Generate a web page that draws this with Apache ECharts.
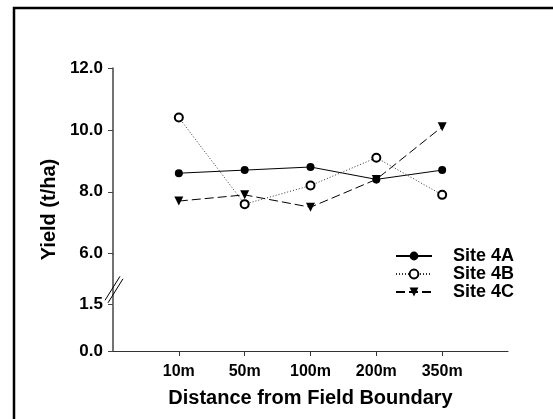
<!DOCTYPE html>
<html>
<head>
<meta charset="utf-8">
<script src="https://cdn.jsdelivr.net/npm/echarts@6/dist/echarts.min.js"></script>
<style>
  html, body { margin: 0; padding: 0; background: #fff; }
  #main { width: 553px; height: 419px; }
</style>
</head>
<body>
<div id="main"></div>
<script>
// distances from the field boundary
var categories = ['10m', '50m', '100m', '200m', '350m'];
// yields (t/ha)
var site4A = [8.6, 8.7, 8.8, 8.4, 8.7];
var site4B = [10.4, 7.6, 8.2, 9.1, 7.9];
var site4C = [7.7, 7.9, 7.5, 8.4, 10.1];
var yTicks = [0, 1.5, 6, 8, 10, 12];

var font = 'Liberation Sans, Arial, sans-serif';

function toPoints(arr) {
    return arr.map(function (v, i) { return [i + 1, v]; });
}

var myChart = echarts.init(document.getElementById('main'));

var option = {
    animation: false,
    backgroundColor: '#fff',
    grid: { left: 113, right: 45, top: 68, bottom: 68 },
    legend: {
        orient: 'vertical',
        left: 395,
        top: 247,
        padding: 0,
        itemWidth: 36,
        itemHeight: 11,
        itemGap: 0,
        textStyle: {
            fontFamily: font, fontWeight: 'bold', fontSize: 18, color: '#000',
            lineHeight: 18, padding: [0, 0, 0, 16]
        },
        data: ['Site 4A', 'Site 4B', 'Site 4C']
    },
    xAxis: {
        type: 'value',
        min: 0,
        max: 6,
        name: 'Distance from Field Boundary',
        nameLocation: 'middle',
        nameGap: 37,
        nameTextStyle: { fontFamily: font, fontWeight: 'bold', fontSize: 20, color: '#000' },
        axisLine: { lineStyle: { color: '#333', width: 1.2 } },
        axisTick: { customValues: [1, 2, 3, 4, 5], length: 5, lineStyle: { color: '#333' } },
        axisLabel: {
            customValues: [1, 2, 3, 4, 5],
            margin: 13,
            fontFamily: font, fontWeight: 'bold', fontSize: 16, color: '#000',
            formatter: function (v) { return categories[v - 1]; }
        },
        splitLine: { show: false }
    },
    yAxis: {
        type: 'value',
        min: 0,
        max: 12,
        breaks: [{ start: 1.5, end: 6, gap: '18%' }],
        breakArea: { show: false },
        name: 'Yield (t/ha)',
        nameLocation: 'middle',
        nameGap: 41,
        nameTextStyle: { fontFamily: font, fontWeight: 'bold', fontSize: 20, color: '#000' },
        axisLine: { lineStyle: { color: '#444', width: 1.5 } },
        axisTick: { customValues: yTicks, length: 5, lineStyle: { color: '#444' } },
        axisLabel: {
            customValues: yTicks,
            margin: 10,
            fontFamily: font, fontWeight: 'bold', fontSize: 17, color: '#000',
            formatter: function (v) { return v.toFixed(1); }
        },
        splitLine: { show: false }
    },
    series: [
        {
            name: 'Site 4A',
            type: 'line',
            data: toPoints(site4A),
            symbol: 'circle',
            symbolSize: 8,
            itemStyle: { color: '#000' },
            lineStyle: { color: '#000', width: 1 }
        },
        {
            name: 'Site 4B',
            type: 'line',
            data: toPoints(site4B),
            symbol: 'emptyCircle',
            symbolSize: 8,
            itemStyle: { color: '#000', borderColor: '#000', borderWidth: 1 },
            lineStyle: { color: '#333', width: 1, type: [1, 2] }
        },
        {
            name: 'Site 4C',
            type: 'line',
            data: toPoints(site4C),
            symbol: 'triangle',
            symbolRotate: 180,
            symbolSize: 9,
            itemStyle: { color: '#000' },
            lineStyle: { color: '#000', width: 1, type: [9, 4] }
        }
    ]
};

myChart.setOption(option);

// axis line through the break, the break mark and the frame around the figure
var yLow = myChart.convertToPixel({ yAxisIndex: 0 }, 1.5);
var yHigh = myChart.convertToPixel({ yAxisIndex: 0 }, 6);
var xAx = myChart.convertToPixel({ xAxisIndex: 0 }, 0);
var cy = yLow - 0.3 * (yLow - yHigh);
myChart.setOption({
    graphic: [
        { type: 'line', shape: { x1: xAx, y1: yHigh, x2: xAx, y2: yLow }, style: { stroke: '#444', lineWidth: 1.5 } },
        { type: 'line', shape: { x1: xAx - 8, y1: cy + 11, x2: xAx + 7, y2: cy - 13 }, style: { stroke: '#000', lineWidth: 1 } },
        { type: 'line', shape: { x1: xAx - 5, y1: cy + 13.5, x2: xAx + 10, y2: cy - 10.5 }, style: { stroke: '#000', lineWidth: 1 } },
        { type: 'rect', shape: { x: 14, y: 8, width: 700, height: 600 }, style: { fill: null, stroke: '#000', lineWidth: 2.5 } }
    ]
});
</script>
</body>
</html>
